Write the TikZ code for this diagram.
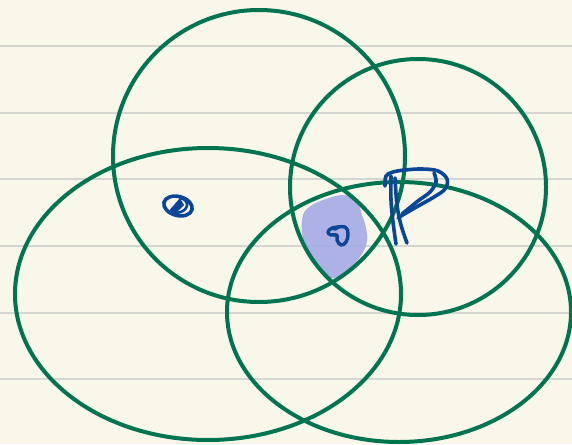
\documentclass[tikz,border=0pt]{standalone}
\definecolor{PAPERcream}{HTML}{F8F7EA}
\definecolor{PAPERrule}{HTML}{D5D5D2}
\definecolor{SETgreen}{HTML}{00734F}
\definecolor{INKblue}{HTML}{0B4596}
\definecolor{HLviolet}{HTML}{A5AAE6}
\usetikzlibrary{calc}

\begin{document}
\begin{tikzpicture}[x=1pt, y=-1pt,
      rule/.style={PAPERrule, line width=1.4pt},
      setline/.style={SETgreen, line width=4pt},
      ink/.style={INKblue, line width=3.6pt, line cap=round, line join=round},
      highlight/.style={fill=HLviolet, fill opacity=0.9}]

      % Paper and bounding box
      \useasboundingbox (0,0) rectangle (572,444);
      \fill[PAPERcream] (0,0) rectangle (572,444);

      % Ruled lines
      \foreach \y in {46,113,179,246,313,379}
         \draw[rule] (0,\y) -- (572,\y);

      % Highlighted region (common part)
      \fill[highlight] plot[smooth cycle, tension=0.7] coordinates {
         (302,220) (308,208) (326,199) (345,195) (357,202) (362,215)
         (366,228) (367,241) (362,254) (351,267) (337,277) (327,277)
         (317,268) (308,256) (303,240)};

      % The four sets
      \draw[setline] (259,156) circle[radius=146];
      \draw[setline] (418,187) circle[radius=128];
      \draw[setline] (208,294) ellipse[x radius=193, y radius=146];
      \draw[setline] (399,312) ellipse[x radius=172, y radius=130];

      % Left scribble
      \draw[ink] (178,206) ellipse[x radius=14.5, y radius=9.5, rotate=-15];
      \fill[INKblue] (167,213) -- (180,198) -- (184,205) -- (176,213) -- cycle;
      \draw[ink, line width=2.6pt] (180,198) .. controls (191,200) and (189,212) .. (176,213);

      % Scribble inside the highlight
      \draw[ink, line width=3.4pt] plot[smooth, tension=0.7] coordinates {
         (336,229) (332,228) (345,227) (348,234) (346,242) (341,245)
         (337,240) (337,235) (331,235) (328,232) (332,228) (338,228)};

      % The P
      \draw[ink] plot[smooth, tension=0.6] coordinates {
         (385,186) (386,176) (393,172) (405,170) (422,169) (438,171)
         (447,179) (445,189) (434,197) (420,205) (406,213) (398,218)};
      \draw[ink] plot[smooth, tension=0.6] coordinates {
         (391,176) (391,200) (393,222) (396,244)};
      \draw[ink] plot[smooth, tension=0.6] coordinates {
         (395,178) (397,205) (401,225) (407,243)};
      \draw[ink] plot[smooth, tension=0.6] coordinates {
         (434,173) (436,182) (430,192) (418,201) (402,214)};
   \end{tikzpicture}
\end{document}
